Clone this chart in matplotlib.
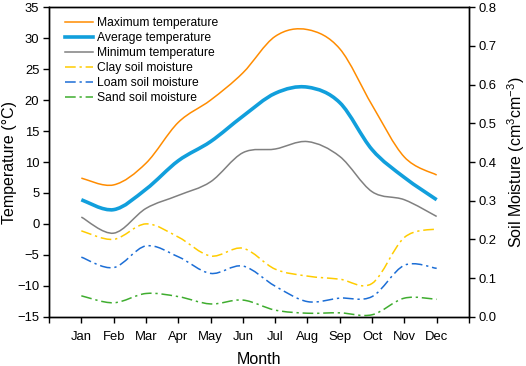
import numpy as np
import matplotlib
matplotlib.use("Agg")
import matplotlib.pyplot as plt
from matplotlib.path import Path
from matplotlib.patches import PathPatch
from matplotlib.lines import Line2D

plt.rcParams['font.family'] = ['Liberation Sans', 'DejaVu Sans']
plt.rcParams['mathtext.fontset'] = 'custom'
plt.rcParams['mathtext.rm'] = 'Liberation Sans'

# monthly values
months = ['Jan', 'Feb', 'Mar', 'Apr', 'May', 'Jun',
          'Jul', 'Aug', 'Sep', 'Oct', 'Nov', 'Dec']
t_max = [7.4, 6.3, 9.8, 16.4, 20.0, 24.4, 30.3, 31.4, 28.3, 19.2, 10.8, 7.9]
t_avg = [3.9, 2.3, 5.6, 10.2, 13.3, 17.4, 21.1, 22.1, 19.6, 12.0, 7.5, 3.9]
t_min = [1.1, -1.5, 2.5, 4.6, 6.8, 11.5, 12.1, 13.3, 10.9, 5.2, 3.9, 1.2]
clay = [0.222, 0.200, 0.240, 0.206, 0.157, 0.177, 0.123, 0.105, 0.097, 0.086, 0.205, 0.227]
loam = [0.154, 0.127, 0.183, 0.155, 0.112, 0.131, 0.079, 0.039, 0.048, 0.052, 0.133, 0.125]
sand = [0.054, 0.036, 0.060, 0.052, 0.033, 0.043, 0.017, 0.009, 0.010, 0.005, 0.048, 0.045]

c_max = '#ff8c00'
c_avg = '#119fdc'
c_min = '#808080'
c_clay = '#ffcc00'
c_loam = '#1c6ed6'
c_sand = '#3fad2f'
dashdot = (0, (7, 2.5, 1.5, 2.5))


def smooth_curve(ax, xs, ys, **kw):
    # catmull-rom through the points, drawn as bezier segments
    pts = np.column_stack([xs, ys]).astype(float)
    n = len(pts)
    verts = [pts[0]]
    codes = [Path.MOVETO]
    for i in range(n - 1):
        p0 = pts[i - 1] if i > 0 else pts[i]
        p1 = pts[i]
        p2 = pts[i + 1]
        p3 = pts[i + 2] if i + 2 < n else pts[i + 1]
        verts += [p1 + (p2 - p0) / 6, p2 - (p3 - p1) / 6, p2]
        codes += [Path.CURVE4] * 3
    patch = PathPatch(Path(verts, codes), fill=False, capstyle='butt',
                      joinstyle='round', **kw)
    ax.add_patch(patch)


x = np.arange(1, 13)

fig = plt.figure(figsize=(5.26, 3.66), dpi=100)
ax = fig.add_axes([0.0932, 0.1347, 0.7984, 0.8453])
ax2 = ax.twinx()

smooth_curve(ax, x, t_max, edgecolor=c_max, lw=1.1)
smooth_curve(ax, x, t_avg, edgecolor=c_avg, lw=2.6)
smooth_curve(ax, x, t_min, edgecolor=c_min, lw=1.1)
smooth_curve(ax2, x, clay, edgecolor=c_clay, lw=1.1, linestyle=dashdot)
smooth_curve(ax2, x, loam, edgecolor=c_loam, lw=1.1, linestyle=dashdot)
smooth_curve(ax2, x, sand, edgecolor=c_sand, lw=1.1, linestyle=dashdot)

ax.set_xlim(0, 13)
ax.set_ylim(-15, 35)
ax2.set_ylim(0, 0.8)

ax.set_xticks(range(0, 14))
ax.set_xticklabels([''] + months + [''])
ax.set_yticks(range(-15, 36, 5))
ax2.set_yticks(np.arange(0, 0.81, 0.1))
ax2.set_yticklabels(['%.1f' % v for v in np.arange(0, 0.81, 0.1)])

for a in (ax, ax2):
    a.tick_params(direction='out', length=4, width=1, labelsize=9.4, pad=3)
    for s in a.spines.values():
        s.set_linewidth(1.0)
ax.tick_params(axis='x', pad=6)

ax.set_xlabel('Month', fontsize=11.5, labelpad=7)
ax.set_ylabel('Temperature (°C)', fontsize=11.5, labelpad=0)
ax2.set_ylabel(r'Soil Moisture (cm$^\mathregular{3}$cm$^\mathregular{-3}$)',
               fontsize=11.5, labelpad=6)

handles = [
    Line2D([], [], color=c_max, lw=1.1),
    Line2D([], [], color=c_avg, lw=2.6),
    Line2D([], [], color=c_min, lw=1.1),
    Line2D([], [], color=c_clay, lw=1.1, linestyle=dashdot),
    Line2D([], [], color=c_loam, lw=1.1, linestyle=dashdot),
    Line2D([], [], color=c_sand, lw=1.1, linestyle=dashdot),
]
labels = ['Maximum temperature', 'Average temperature', 'Minimum temperature',
          'Clay soil moisture', 'Loam soil moisture', 'Sand soil moisture']
ax2.legend(handles, labels, loc='upper left', frameon=False, fontsize=8.7,
           handlelength=2.3, handletextpad=0.35, labelspacing=0.24,
           borderaxespad=0.3, bbox_to_anchor=(0.018, 0.995))

fig.savefig('out.png', dpi=100)
